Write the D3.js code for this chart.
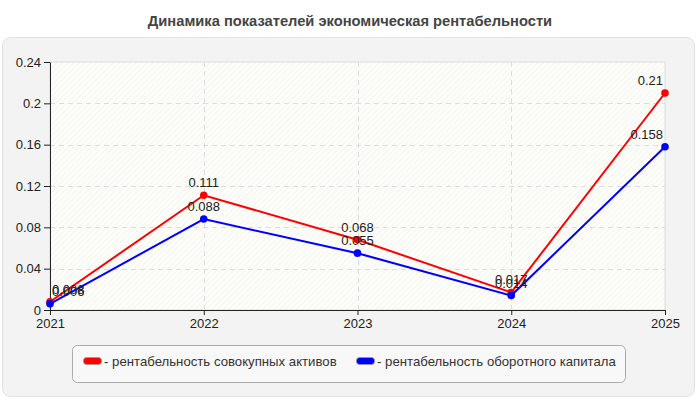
<!DOCTYPE html>
<html><head><meta charset="utf-8">
<script src="https://cdn.jsdelivr.net/npm/d3@7"></script>
<style>body{margin:0;background:#fff;} svg{display:block;font-family:"Liberation Sans",Arial,sans-serif;}</style>
</head><body><svg id="c" width="700" height="400"></svg>
<script>
const title = "Динамика показателей экономическая рентабельности";
const years = ["2021","2022","2023","2024","2025"];
const assetsReturn = [0.008, 0.111, 0.068, 0.017, 0.21];
const capitalReturn = [0.006, 0.088, 0.055, 0.014, 0.158];
const seriesNames = ["- рентабельность совокупных активов", "- рентабельность оборотного капитала"];
const seriesColors = ["#ff0000", "#0000ff"];
const yTicks = [0, 0.04, 0.08, 0.12, 0.16, 0.2, 0.24];

const svg = d3.select("#c");
const defs = svg.append("defs");
const pat = defs.append("pattern").attr("id","hatch").attr("patternUnits","userSpaceOnUse")
  .attr("width",4).attr("height",4).attr("patternTransform","rotate(45)");
pat.append("rect").attr("width",4).attr("height",4).attr("fill","#fdfdfa");
pat.append("line").attr("x1",0).attr("y1",0).attr("x2",0).attr("y2",4).attr("stroke","#efefec").attr("stroke-width",1.2);

svg.append("text").attr("x",350).attr("y",26).attr("text-anchor","middle")
  .attr("font-weight","bold").attr("font-size",14.7).attr("fill","#444").text(title);

svg.append("rect").attr("x",2.5).attr("y",37.5).attr("width",692).attr("height",359).attr("rx",8)
  .attr("fill","#f3f3f3").attr("stroke","#e2e2e2");

const L=50,R=665,T=62,B=310;
const x = d3.scalePoint().domain(years).range([L,R]);
const y = d3.scaleLinear().domain([0,0.24]).range([B,T]);

svg.append("rect").attr("x",L).attr("y",T).attr("width",R-L).attr("height",B-T).attr("fill","url(#hatch)")
  .attr("stroke","#dcdcdc");

const g = svg.append("g");
g.selectAll(".hg").data(yTicks.slice(1,-1)).join("line").attr("x1",L).attr("x2",R)
  .attr("y1",d=>Math.round(y(d))+0.5).attr("y2",d=>Math.round(y(d))+0.5)
  .attr("stroke","#dddddd").attr("stroke-dasharray","5,4");
g.selectAll(".vg").data(years.slice(1,-1)).join("line").attr("y1",T).attr("y2",B)
  .attr("x1",d=>Math.round(x(d))+0.5).attr("x2",d=>Math.round(x(d))+0.5)
  .attr("stroke","#dddddd").attr("stroke-dasharray","5,4");

const fmt = d => String(+d.toFixed(3));
const yAxis = svg.append("g").attr("transform",`translate(${L},0)`)
  .call(d3.axisLeft(y).tickValues(yTicks).tickFormat(fmt).tickSize(6).tickSizeOuter(0).tickPadding(3));
const xAxis = svg.append("g").attr("transform",`translate(0,${B})`)
  .call(d3.axisBottom(x).tickSize(5).tickSizeOuter(0).tickPadding(4));
[yAxis,xAxis].forEach(a=>{
  a.selectAll("text").attr("font-size",13).attr("fill","#222").attr("font-family","Liberation Sans, Arial, sans-serif");
  a.select(".domain").attr("stroke","#222");
  a.selectAll(".tick line").attr("stroke","#222");
});

const series = [assetsReturn, capitalReturn];
const line = d3.line().x((d,i)=>x(years[i])).y(d=>y(d));
series.forEach((s,k)=>{
  svg.append("path").datum(s).attr("d",line).attr("fill","none").attr("stroke",seriesColors[k]).attr("stroke-width",2);
  svg.selectAll(null).data(s).join("circle").attr("cx",(d,i)=>x(years[i])).attr("cy",d=>y(d)).attr("r",3.8)
    .attr("fill",seriesColors[k]);
});
series.forEach((s,k)=>{
  svg.selectAll(null).data(s).join("text")
    .attr("font-size",13).attr("fill","#222").attr("text-anchor","middle")
    .attr("y",d=>y(d)-8)
    .text(d=>fmt(d))
    .each(function(d,i){
      const w = this.getComputedTextLength();
      let cx = x(years[i]);
      cx = Math.max(L+2+w/2, Math.min(R-2-w/2, cx));
      d3.select(this).attr("x",cx);
    });
});

// legend
svg.append("rect").attr("x",72.5).attr("y",345.5).attr("width",553).attr("height",37).attr("rx",5)
  .attr("fill","#f8f8f8").attr("stroke","#aaaaaa");
const legX = [83, 356];
seriesNames.forEach((n,k)=>{
  svg.append("rect").attr("x",legX[k]+0.5).attr("y",357.5).attr("width",18).attr("height",7).attr("rx",3)
    .attr("fill",seriesColors[k]).attr("stroke","#999").attr("stroke-width",0.8);
  svg.append("text").attr("x",legX[k]+21).attr("y",366).attr("font-size",13.2).attr("fill","#333").text(n);
});
</script></body></html>
